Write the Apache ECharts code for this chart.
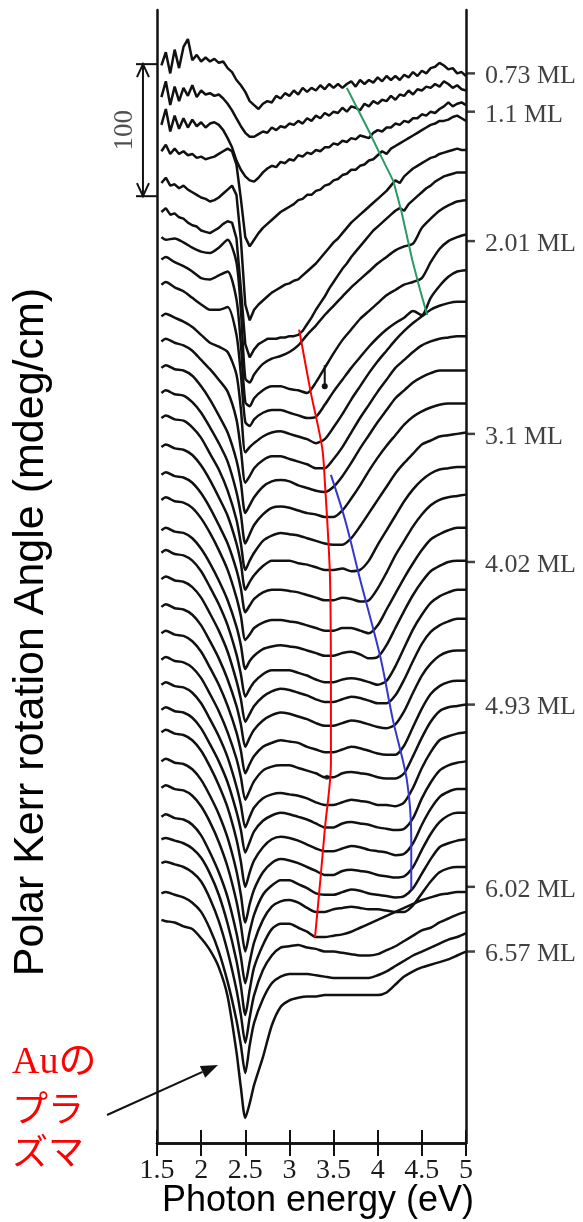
<!DOCTYPE html>
<html><head><meta charset="utf-8">
<script src="https://cdn.jsdelivr.net/npm/echarts@6/dist/echarts.min.js"></script>
<style>html,body{margin:0;padding:0;background:#fff}#c{width:583px;height:1222px}</style>
</head><body><div id="c"></div>
<script>
// Photon energy grids (eV)
const energyFine = [1.55,1.6,1.65,1.7,1.75,1.8,1.85,1.9,1.95,2,2.05,2.1,2.15,2.2,2.25,2.3,2.35,2.4,2.45,2.5,2.55,2.6,2.65,2.7,2.75,2.8,2.85,2.9,2.95,3,3.05,3.1,3.15,3.2,3.25,3.3,3.35,3.4,3.45,3.5,3.55,3.6,3.65,3.7,3.75,3.8,3.85,3.9,3.95,4,4.05,4.1,4.15,4.2,4.25,4.3,4.35,4.4,4.45,4.5,4.55,4.6,4.65,4.7,4.75,4.8,4.85,4.9,4.95,5];
const energy = [1.55,1.6,1.7,1.8,1.9,2,2.1,2.2,2.3,2.4,2.45,2.5,2.55,2.6,2.7,2.8,2.9,3,3.1,3.2,3.3,3.4,3.5,3.6,3.7,3.8,3.9,4,4.1,4.2,4.3,4.4,4.5,4.6,4.7,4.8,4.9,5];
// vertical stacking offset of each spectrum (mdeg/cm), top (0.73 ML) to bottom (6.57 ML)
const offsets = [816,792,771,751,727,705,686,669,650,626,607,587,568,549,527,506,487,464,447,427,406,386,366,347,328,311,289,269,247,230,212,189,169];
// Kerr rotation of each spectrum relative to its start (mdeg/cm)
const d00 = [0,10,-6,12,-2,14,20,4,8,3,6,3,5,2,3,-2,-5,-11,-15,-20,-27,-30,-33,-29,-27,-28,-23,-25,-21,-23,-19,-22,-17,-20,-17,-19,-15,-18,-14,-17,-14,-17,-14,-12,-16,-11,-14,-11,-13,-9,-12,-8,-11,-8,-11,-7,-9,-5,-8,-4,-6,-2,-1,2,0,-3,-2,-6,-5,-8];
const d01 = [0,12,-6,8,-3,7,1,9,0,5,2,3,1,2,-1,-5,-10,-16,-22,-27,-30,-30,-28,-26,-27,-23,-25,-22,-23,-20,-21,-18,-20,-16,-18,-14,-16,-12,-14,-11,-12,-8,-11,-7,-8,-10,-5,-7,-3,-5,-2,-3,1,-2,2,1,5,2,6,5,8,7,10,8,12,10,7,9,6,5];
const d02 = [0,12,-5,7,-3,5,-2,4,-1,2,-2,1,2,0,-4,-10,-17,-27,-34,-39,-42,-43,-40,-36,-33,-31,-32,-28,-29,-26,-27,-23,-24,-21,-22,-19,-20,-17,-17,-14,-15,-12,-13,-10,-11,-8,-9,-10,-6,-4,-5,-2,-2,1,0,3,2,5,5,8,7,10,9,12,14,17,14,16,17,15];
const d03 = [0,5,-2,2,-2,0,-3,-2,-5,-4,-6,-5,-4,-2,0,2,0,-10,-36,-65,-72,-67,-62,-58,-55,-52,-49,-46,-44,-42,-40,-37,-36,-33,-33,-30,-29,-26,-25,-22,-21,-18,-17,-14,-14,-11,-10,-7,-6,-3,0,-2,2,4,6,8,10,12,14,16,18,20,21,23,23,24,26,27,25,23];
const d04 = [0,4,-2,-1,-4,-2,-5,-7,-9,-11,-12,-14,-13,-11,-8,-5,-2,-9,-43,-92,-104,-96,-92,-89,-86,-83,-81,-79,-77,-76,-74,-73,-70,-67,-64,-61,-57,-53,-49,-45,-42,-38,-34,-30,-27,-24,-21,-18,-15,-12,-9,-6,-2,2,0,5,8,11,13,15,17,19,20,22,23,24,25,26,25,25];
const d05 = [0,3,-2,-1,-4,-5,-8,-10,-11,-14,-15,-16,-14,-12,-9,-7,-8,-20,-58,-100,-110,-104,-100,-98,-96,-96,-96,-95,-95,-94,-94,-93,-90,-85,-80,-74,-69,-64,-58,-53,-48,-43,-39,-34,-30,-26,-22,-18,-14,-11,-8,-5,-2,1,3,1,6,9,12,15,18,20,23,25,27,28,29,30,30,30];
const d06 = [0,-2,-1,-4,-8,-11,-12,-8,-2,-19,-55,-107,-110,-104,-96,-92,-90,-87,-82,-74,-67,-59,-52,-45,-38,-32,-26,-20,-15,-10,-7,-5,7,14,20,24,27,28];
const d07 = [0,2,-2,-5,-9,-14,-15,-12,-9,-30,-64,-108,-111,-105,-99,-96,-96,-98,-99,-101,-93,-82,-71,-61,-53,-45,-39,-33,-27,-23,-19,-17,-14,-2,8,14,17,19];
const d08 = [0,2,-2,-5,-10,-15,-19,-19,-17,-38,-68,-104,-107,-102,-97,-95,-95,-97,-99,-101,-100,-91,-81,-72,-63,-55,-47,-40,-34,-29,-25,-20,-23,-10,-1,6,10,11];
const d09 = [0,2,-1,-4,-8,-14,-20,-23,-27,-44,-70,-103,-99,-96,-91,-88,-87,-89,-91,-93,-96,-93,-84,-74,-63,-53,-43,-34,-26,-18,-11,-5,0,5,8,10,11,11];
const d10 = [0,2,-1,-3,-7,-14,-21,-29,-38,-59,-82,-107,-102,-96,-90,-87,-87,-89,-91,-93,-96,-96,-89,-80,-69,-58,-48,-38,-29,-20,-14,-8,-3,0,2,3,4,4];
const d11 = [0,2,-1,-2,-6,-14,-24,-36,-49,-70,-87,-110,-104,-98,-90,-86,-85,-86,-89,-91,-93,-94,-90,-82,-72,-61,-51,-41,-32,-23,-17,-11,-7,-4,-2,-2,-2,-2];
const d12 = [0,2,-1,-2,-7,-15,-26,-38,-52,-75,-92,-114,-107,-100,-92,-87,-86,-87,-89,-91,-92,-94,-94,-89,-80,-70,-59,-49,-40,-32,-24,-18,-14,-11,-9,-8,-8,-8];
const d13 = [0,2,-1,-2,-7,-15,-27,-39,-55,-77,-95,-115,-108,-102,-93,-89,-87,-88,-89,-91,-93,-95,-96,-96,-91,-82,-72,-62,-52,-42,-34,-27,-20,-17,-14,-13,-12,-11];
const d14 = [0,2,-1,-2,-6,-14,-25,-38,-52,-73,-88,-108,-102,-97,-90,-86,-86,-86,-88,-89,-91,-93,-93,-92,-94,-93,-86,-74,-63,-52,-41,-32,-25,-20,-17,-16,-15,-15];
const d15 = [0,2,-1,-2,-6,-14,-25,-38,-52,-72,-86,-104,-99,-94,-89,-87,-87,-88,-89,-91,-93,-95,-95,-93,-94,-96,-95,-86,-74,-61,-50,-39,-30,-23,-19,-17,-16,-15];
const d16 = [0,2,-1,-2,-6,-14,-25,-38,-53,-74,-88,-106,-102,-97,-93,-91,-91,-92,-93,-95,-97,-99,-99,-97,-97,-99,-101,-95,-83,-71,-59,-48,-38,-30,-26,-23,-21,-21];
const d17 = [0,2,-1,-2,-6,-14,-25,-38,-53,-73,-87,-105,-99,-95,-90,-88,-87,-88,-89,-91,-93,-95,-95,-93,-92,-94,-97,-96,-87,-74,-61,-49,-39,-31,-27,-24,-23,-23];
const d18 = [0,2,-1,-2,-6,-14,-26,-39,-55,-77,-92,-109,-103,-98,-92,-89,-89,-89,-91,-93,-96,-98,-98,-96,-95,-96,-98,-100,-97,-86,-72,-58,-47,-38,-33,-30,-28,-28];
const d19 = [0,2,-1,-2,-6,-14,-26,-39,-55,-77,-91,-108,-102,-96,-89,-85,-83,-84,-86,-88,-91,-93,-93,-91,-89,-90,-92,-94,-94,-88,-76,-62,-49,-40,-35,-32,-30,-30];
const d20 = [0,2,-1,-2,-6,-14,-26,-39,-55,-75,-89,-106,-99,-93,-86,-82,-80,-81,-83,-85,-88,-90,-90,-88,-86,-87,-89,-91,-92,-89,-79,-65,-52,-43,-37,-34,-33,-33];
const d21 = [0,2,-1,-2,-6,-14,-26,-39,-55,-75,-89,-106,-99,-93,-86,-83,-81,-82,-83,-86,-88,-90,-90,-88,-86,-87,-89,-91,-92,-92,-85,-71,-57,-46,-40,-37,-36,-36];
const d22 = [0,2,-1,-2,-6,-14,-26,-39,-55,-75,-89,-106,-99,-92,-84,-81,-80,-80,-82,-84,-86,-89,-89,-86,-85,-86,-87,-89,-90,-90,-86,-73,-59,-47,-39,-36,-35,-34];
const d23 = [0,2,-1,-2,-6,-14,-26,-39,-55,-77,-91,-108,-100,-93,-86,-83,-82,-83,-84,-86,-89,-91,-91,-89,-87,-88,-89,-91,-91,-92,-89,-78,-63,-51,-42,-39,-37,-36];
const d24 = [0,2,-1,-2,-6,-14,-26,-39,-55,-77,-91,-108,-100,-92,-84,-80,-78,-79,-81,-83,-86,-89,-89,-86,-85,-86,-87,-89,-90,-91,-90,-82,-67,-55,-46,-42,-40,-39];
const d25 = [0,2,-1,-2,-6,-14,-26,-40,-57,-81,-98,-117,-106,-97,-87,-81,-79,-80,-82,-85,-88,-90,-90,-88,-86,-87,-89,-90,-91,-93,-92,-84,-70,-58,-49,-45,-43,-43];
const d26 = [0,2,-1,-2,-6,-14,-26,-40,-58,-83,-101,-122,-108,-97,-84,-77,-74,-75,-77,-80,-83,-86,-86,-83,-82,-83,-84,-86,-87,-88,-87,-80,-67,-55,-46,-41,-39,-39];
const d27 = [0,2,-1,-2,-6,-14,-26,-41,-60,-86,-104,-124,-109,-96,-81,-74,-70,-70,-73,-76,-80,-81,-81,-79,-77,-78,-80,-81,-82,-83,-82,-76,-65,-54,-45,-42,-40,-39];
const d28 = [0,2,-1,-2,-6,-14,-27,-42,-61,-88,-106,-126,-110,-95,-78,-68,-64,-63,-65,-69,-72,-72,-70,-69,-68,-69,-70,-70,-71,-72,-72,-67,-58,-49,-42,-39,-38,-38];
const d29 = [0,1,-1,-3,-7,-14,-26,-42,-64,-92,-111,-133,-114,-97,-80,-68,-64,-64,-67,-70,-74,-74,-73,-72,-70,-67,-64,-61,-58,-55,-52,-49,-46,-44,-42,-41,-40,-40];
const d30 = [0,1,-1,-3,-7,-14,-27,-44,-67,-96,-115,-136,-117,-100,-81,-70,-64,-63,-62,-64,-65,-67,-67,-68,-69,-70,-70,-69,-66,-63,-59,-55,-51,-49,-45,-42,-39,-37];
const d31 = [0,1,-1,-3,-7,-14,-27,-44,-67,-96,-115,-136,-115,-98,-80,-68,-63,-61,-61,-61,-62,-63,-64,-64,-64,-64,-64,-62,-59,-55,-51,-47,-44,-41,-38,-35,-33,-30];
const d32 = [0,-1,-2,-5,-7,-14,-23,-36,-58,-100,-127,-150,-139,-125,-104,-80,-66,-61,-59,-58,-58,-57,-57,-57,-57,-57,-57,-57,-55,-49,-43,-39,-36,-34,-32,-30,-27,-24];
// thickness labels on the right and their levels (mdeg/cm)
const thicknessLabels = ['0.73 ML','1.1 ML','2.01 ML','3.1 ML','4.02 ML','4.93 ML','6.02 ML','6.57 ML'];
const labelLevels = [810,781,683,537,440,332,194,145];
// guide lines drawn on the figure (eV, mdeg/cm)
const greenE = [3.65,3.88,4.04,4.18,4.27,4.39,4.48,4.56];
const greenV = [799,769,747,728,705,669,646,627];
const redE = [3.11,3.24,3.37,3.40,3.46,3.47,3.47,3.40,3.35,3.29];
const redV = [616,569,527,502,427,336,288,237,199,156];
const blueE = [3.47,3.63,3.80,4.03,4.17,4.33,4.38,4.38];
const blueV = [506,472,427,368,321,275,230,192];
// small markers
const markE = [3.40,3.40];
const markV = [589,573];
const dotE = [3.425];
const dotV = [277];
// scale bar: 100 mdeg/cm
const scaleE = 1.341;
const scaleLow = 717, scaleHigh = 817;
const capE = [1.262,1.5];
const scaleLabelE = 1.138, scaleLabelV = 767;
// Au plasma arrow (tail -> head)
const arrowE = [0.934,2.191];
const arrowV = [21.2,59.1];

const fineSet = [d00,d01,d02,d03,d04,d05];
const mainSet = [d06,d07,d08,d09,d10,d11,d12,d13,d14,d15,d16,d17,d18,d19,d20,d21,d22,d23,d24,d25,d26,d27,d28,d29,d30,d31,d32];

function curve(xs, off, d, smooth){
  const n = Math.min(xs.length, d.length);
  const data = [];
  for (let k=0;k<n;k++) data.push([xs[k], off + d[k]]);
  return {type:'line', data, symbol:'none', smooth: smooth ? 0.25 : false,
    lineStyle:{color:'#111', width:2.5}, silent:true, animation:false, z:2};
}
function pairs(a,b){ return a.map((e,i)=>[e,b[i]]); }

const series = [];
fineSet.forEach((d,i)=>series.push(curve(energyFine, offsets[i], d, false)));
mainSet.forEach((d,i)=>series.push(curve(energy, offsets[i+6], d, true)));

series.push({type:'line', data:pairs(greenE,greenV), symbol:'none', lineStyle:{color:'#2a9a64', width:2}, z:5, silent:true});
series.push({type:'line', data:pairs(redE,redV), symbol:'none', smooth:0.3, lineStyle:{color:'#ff0000', width:2}, z:5, silent:true});
series.push({type:'line', data:pairs(blueE,blueV), symbol:'none', smooth:0.3, lineStyle:{color:'#3535d0', width:2}, z:5, silent:true});
series.push({type:'line', data:[{value:[markE[0],markV[0]],symbol:'none'},{value:[markE[1],markV[1]],symbol:'circle',symbolSize:6}],
  lineStyle:{color:'#111', width:2}, itemStyle:{color:'#111'}, z:5, silent:true});
series.push({type:'scatter', data:pairs(dotE,dotV), symbolSize:5, itemStyle:{color:'#111'}, z:6, silent:true});

// scale bar (drawn through the axes' scales)
series.push({type:'custom', clip:false, silent:true, z:6,
  data:[[scaleE, scaleLow, scaleHigh, capE[0], capE[1]]],
  renderItem(params, api){
    const x = api.value(0);
    const lo = api.coord([x, api.value(1)]);
    const hi = api.coord([x, api.value(2)]);
    const a0 = api.coord([api.value(3), api.value(1)]);
    const a1 = api.coord([api.value(4), api.value(1)]);
    const b0 = api.coord([api.value(3), api.value(2)]);
    const b1 = api.coord([api.value(4), api.value(2)]);
    const st = {stroke:'#111', lineWidth:2, fill:null};
    return {type:'group', children:[
      {type:'line', shape:{x1:lo[0],y1:lo[1],x2:hi[0],y2:hi[1]}, style:st},
      {type:'line', shape:{x1:a0[0],y1:a0[1],x2:a1[0],y2:a1[1]}, style:st},
      {type:'line', shape:{x1:b0[0],y1:b0[1],x2:b1[0],y2:b1[1]}, style:st},
      {type:'polyline', shape:{points:[[hi[0]-6,hi[1]+13],[hi[0],hi[1]],[hi[0]+6,hi[1]+13]]}, style:st},
      {type:'polyline', shape:{points:[[lo[0]-6,lo[1]-13],[lo[0],lo[1]],[lo[0]+6,lo[1]-13]]}, style:st}
    ]};
  }});
series.push({type:'scatter', clip:false, data:[[scaleLabelE, scaleLabelV]], symbolSize:1, itemStyle:{color:'rgba(0,0,0,0)'},
  label:{show:true, position:'inside', formatter:'100', rotate:90, fontFamily:'Liberation Serif', fontSize:27, color:'#222'}, silent:true});
// arrow pointing at the Au plasma dip
series.push({type:'custom', clip:false, silent:true, z:6,
  data:[[arrowE[0], arrowV[0], arrowE[1], arrowV[1]]],
  renderItem(params, api){
    const a = api.coord([api.value(0), api.value(1)]);
    const b = api.coord([api.value(2), api.value(3)]);
    const dx=b[0]-a[0], dy=b[1]-a[1], L=Math.hypot(dx,dy), ux=dx/L, uy=dy/L;
    const hl=17, hw=6.5;
    const base=[b[0]-ux*hl, b[1]-uy*hl];
    return {type:'group', children:[
      {type:'line', shape:{x1:a[0],y1:a[1],x2:base[0],y2:base[1]}, style:{stroke:'#111', lineWidth:2}},
      {type:'polygon', shape:{points:[[b[0],b[1]],[base[0]-uy*hw, base[1]+ux*hw],[base[0]+uy*hw, base[1]-ux*hw]]}, style:{fill:'#111'}}
    ]};
  }});
series.push({type:'scatter', clip:false, data:thicknessLabels.map((t,i)=>({name:t, value:[5, labelLevels[i]]})),
  symbol:'rect', symbolSize:[9,2.5], symbolOffset:[4.5,0], itemStyle:{color:'#111'},
  label:{show:true, position:'right', distance:10, offset:[0,3], formatter:'{b}', fontFamily:'Liberation Serif', fontSize:26, color:'#111'},
  silent:true, z:6});

const frame = {show:true, lineStyle:{color:'#111', width:2.5}};
const chart = echarts.init(document.getElementById('c'), null, {renderer:'canvas'});
chart.setOption({
  animation:false,
  backgroundColor:'#fff',
  grid:{left:157, right:117, top:10, bottom:79, containLabel:false, outerBoundsMode:'none'},
  xAxis:[
    {type:'value', min:1.5, max:5, interval:0.5, position:'bottom', axisLine:frame,
     axisTick:{show:true, inside:true, length:13, lineStyle:{color:'#111', width:2}},
     axisLabel:{show:true, margin:14, fontFamily:'Liberation Serif', fontSize:28, color:'#1a1a1a', showMinLabel:true, showMaxLabel:true},
     splitLine:{show:false},
     name:'Photon energy (eV)', nameLocation:'middle', nameGap:40, nameMoveOverlap:false,
     nameTextStyle:{fontFamily:'Liberation Sans', fontSize:36, color:'#000', padding:[0,0,0,13], verticalAlign:'top'}},
    {type:'value', min:1.5, max:5, interval:0.5, position:'top', axisLine:frame,
     axisTick:{show:true, inside:true, length:13, lineStyle:{color:'#111', width:2}},
     axisLabel:{show:false}, splitLine:{show:false}}
  ],
  yAxis:[
    {type:'value', min:0, max:858, position:'left', axisLine:frame, axisTick:{show:false}, axisLabel:{show:false}, splitLine:{show:false}},
    {type:'value', min:0, max:858, position:'right', axisLine:frame, axisTick:{show:false}, axisLabel:{show:false}, splitLine:{show:false}}
  ],
  graphic:[
    {type:'text', x:31, y:632, rotation:Math.PI/2, silent:true,
     style:{text:'Polar Kerr rotation Angle (mdeg/cm)', fontFamily:'Liberation Sans', fontSize:43, fill:'#000', align:'center', verticalAlign:'middle', textAlign:'center', textVerticalAlign:'middle'}},
    {type:'text', x:12, y:1063, silent:true, style:{text:'Auの', fontFamily:'Liberation Serif, "Noto Sans CJK JP"', fontSize:38, fill:'#ff0000', align:'left', verticalAlign:'middle', textVerticalAlign:'middle'}},
    {type:'text', x:12, y:1108, silent:true, style:{text:'プラ', fontFamily:'"Noto Sans CJK JP"', fontSize:36, fill:'#ff0000', align:'left', verticalAlign:'middle', textVerticalAlign:'middle'}},
    {type:'text', x:12, y:1151, silent:true, style:{text:'ズマ', fontFamily:'"Noto Sans CJK JP"', fontSize:36, fill:'#ff0000', align:'left', verticalAlign:'middle', textVerticalAlign:'middle'}}
  ],
  series
});
</script></body></html>
